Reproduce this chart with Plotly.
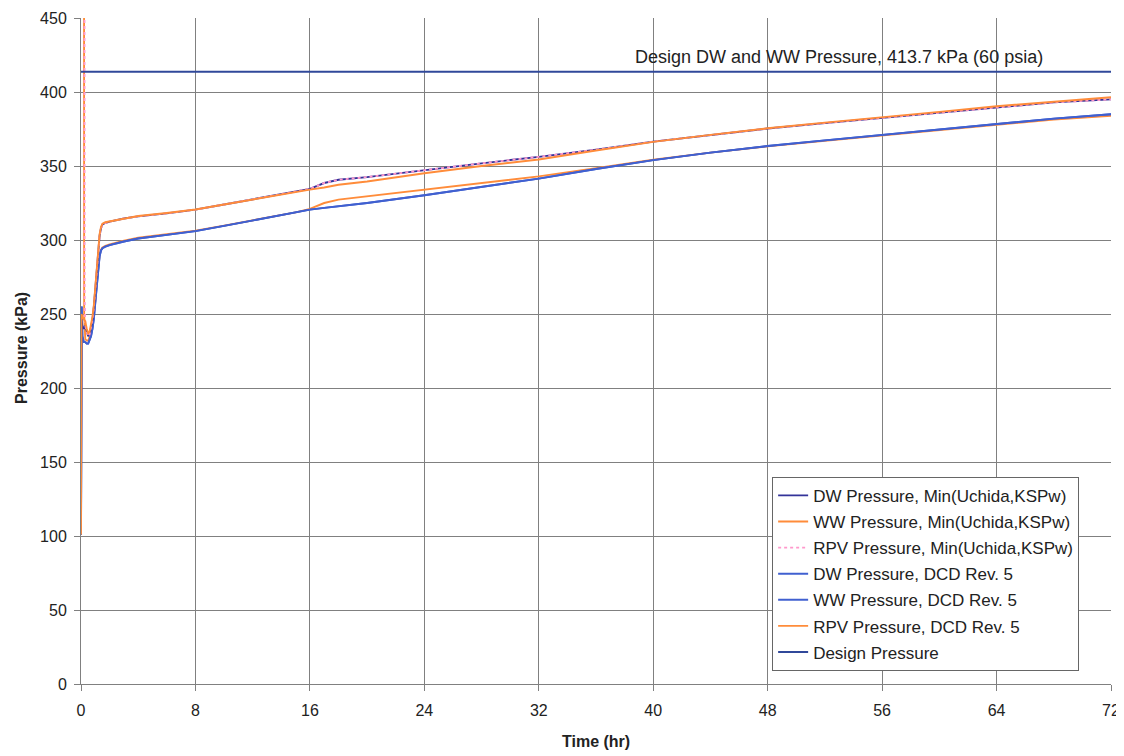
import plotly.graph_objects as go

# ---------------- data ----------------
# Min(Uchida,KSPw) group
t_min = [0, 0.03, 0.1, 0.2, 0.3, 0.4, 0.5, 0.6, 0.7, 0.8, 0.9, 1.0, 1.1, 1.2, 1.3, 1.4, 1.5, 1.7,
         2, 3, 4, 6, 8, 10, 12, 14, 15, 16, 17, 18, 20, 24, 28, 32, 36, 40, 44, 48, 52, 56, 60, 64, 68, 72]
dw_min = [101, 245, 242, 240, 242, 238, 235, 236, 240, 246, 255, 268, 282, 295, 303, 308, 310.5, 311.5,
          312.4, 314.5, 316, 318, 320.5, 324, 327.5, 330.5, 332.5, 334.5, 338.5, 340.7, 342.5, 347.3,
          351.8, 356.2, 361, 366.5, 371, 375.3, 379, 382.5, 386.3, 390, 393, 395]
ww_min = [101, 250, 248, 246, 245, 240, 237, 238, 242, 248, 256, 269, 283, 296, 304, 309, 311, 312,
          312.6, 314.6, 316.2, 318.2, 320.6, 324, 327.5, 330.5, 332.3, 334, 335.5, 337.3, 339.5, 345.1,
          350, 354.4, 360.5, 366.3, 371, 375.5, 379.3, 382.8, 386.6, 390.4, 393.6, 396.5]
t_rpv_min = [0, 0.2, 0.25] + t_min[4:]
rpv_min = [7000, 1200, 262] + dw_min[4:]

# DCD Rev. 5 group
t_dcd = [0, 0.02, 0.05, 0.1, 0.2, 0.3, 0.4, 0.5, 0.6, 0.7, 0.8, 0.9, 1.0, 1.1, 1.2, 1.3, 1.4, 1.5, 1.7,
         2, 3, 4, 6, 8, 10, 12, 14, 15, 16, 17, 18, 20, 24, 28, 32, 36, 40, 44, 48, 52, 56, 60, 64, 68, 72]
dw_dcd = [101, 228, 255, 235, 231, 231, 230, 230, 232, 235, 240, 247, 258, 270, 281, 289, 293, 294.5, 295.5,
          296.5, 299, 301, 303.5, 306, 309.5, 313, 316.5, 318.5, 320.5, 321.7, 322.8, 325, 330.2,
          335.8, 341.5, 348, 354, 359, 363.5, 367.3, 371, 374.8, 378.5, 382, 385]
ww_dcd = dw_dcd
t_rpv_dcd = [0, 0.15, 0.22] + t_dcd[5:]
rpv_dcd = [7000, 1500, 250] + [233, 232, 232, 234, 237, 242, 249, 259, 271, 282, 290, 293.5, 295, 296,
                               297, 299.5, 301.5, 304, 306.3, 309.7, 313.2, 316.7, 318.7, 321, 325, 327.3,
                               329.5, 334, 338.5, 343, 348.5, 354.2, 359, 363.3, 367, 370.6, 374.4, 378, 381.4, 384]

t_design = [0, 72]
design = [413.7, 413.7]

x_ticks = [0, 8, 16, 24, 32, 40, 48, 56, 64, 72]
y_ticks = [0, 50, 100, 150, 200, 250, 300, 350, 400, 450]

NAVY = "#333399"
ORANGE = "#FF8C3A"
PINK = "#FF99CC"
BLUE = "#4060D0"
DESIGN = "#30489A"
FONT = "Arial, Liberation Sans, sans-serif"

fig = go.Figure()

def add(x, y, name, color, rank, dash="solid", width=1.9):
    fig.add_trace(go.Scatter(x=x, y=y, name=name, mode="lines", legendrank=rank,
                             legendgroup=name,
                             line=dict(color=color, width=width, dash=dash)))

# draw order chosen to mimic overlaps; legend order set via legendrank
add(t_rpv_dcd, rpv_dcd, "RPV Pressure, DCD Rev. 5", ORANGE, 6)
add(t_dcd, ww_dcd, "WW Pressure, DCD Rev. 5", BLUE, 5)
add(t_dcd, dw_dcd, "DW Pressure, DCD Rev. 5", BLUE, 4)
add(t_min, dw_min, "DW Pressure, Min(Uchida,KSPw)", NAVY, 1)
add(t_rpv_min, rpv_min, "RPV Pressure, Min(Uchida,KSPw)", PINK, 3, dash="dot")
add(t_min, ww_min, "WW Pressure, Min(Uchida,KSPw)", ORANGE, 2)
add(t_design, design, "Design Pressure", DESIGN, 7, width=2)

fig.add_annotation(x=53.0, y=423.5, text="Design DW and WW Pressure, 413.7 kPa (60 psia)",
                   showarrow=False, font=dict(family=FONT, size=18, color="#222222"))

# axis titles placed as annotations (paper coordinates)
fig.add_annotation(xref="paper", yref="paper", x=0.5, y=-0.087, yanchor="middle",
                   text="<b>Time (hr)</b>", showarrow=False,
                   font=dict(family=FONT, size=16, color="#222222"))
fig.add_annotation(xref="paper", yref="paper", x=-0.058, y=0.505, xanchor="center", yanchor="middle",
                   text="<b>Pressure (kPa)</b>", textangle=-90, showarrow=False,
                   font=dict(family=FONT, size=16, color="#222222"))

axis_common = dict(showgrid=True, gridcolor="#808080", gridwidth=1, showline=True,
                   linecolor="#808080", linewidth=1, ticks="outside", ticklen=6,
                   tickcolor="#808080", zeroline=False, automargin=False,
                   tickfont=dict(family=FONT, size=16, color="#222222"))

fig.update_xaxes(range=[0, 72], tickvals=x_ticks, ticktext=[str(v) for v in x_ticks],
                 ticklabelstandoff=6, **axis_common)
fig.update_yaxes(range=[0, 450], tickvals=y_ticks, ticktext=[str(v) for v in y_ticks],
                 ticklabelstandoff=4, **axis_common)

# page body has an 8px margin: size/margins compensate so the plot area lands at
# x 81..1111, y 18..684 in the 1124x756 window
fig.update_layout(
    width=1116, height=748,
    margin=dict(l=73, r=13, t=10, b=72),
    paper_bgcolor="white", plot_bgcolor="white",
    showlegend=True,
    legend=dict(x=0.671, y=0.311, xanchor="left", yanchor="top",
                bgcolor="white", bordercolor="#666666", borderwidth=1,
                font=dict(family=FONT, size=17, color="#222222"),
                tracegroupgap=1, traceorder="grouped"),
)

fig.write_html("out.html")
